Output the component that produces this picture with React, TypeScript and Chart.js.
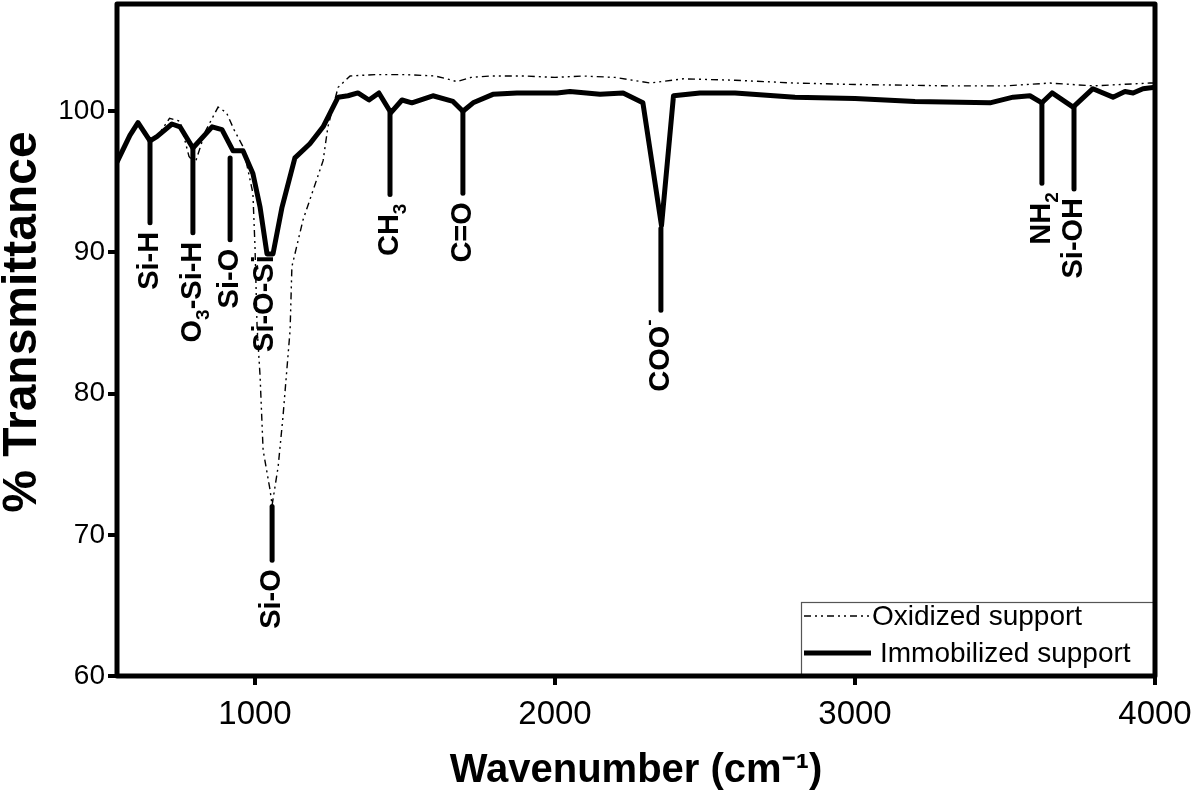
import React, { useEffect, useRef } from "react";
import { Chart, registerables } from "chart.js";

Chart.register(...registerables);

const FONT = "'Liberation Sans', Arial, sans-serif";

// Axis ranges and ticks
const X_MIN = 540;
const X_MAX = 4000;
const Y_MIN = 60;
const Y_MAX = 107.6;
const X_TICKS = [1000, 2000, 3000, 4000];
const Y_TICKS = [60, 70, 80, 90, 100];
const X_TITLE = "Wavenumber (cm\u207B\u00B9)";
const Y_TITLE = "% Transmittance";

// Series: Immobilized support (solid)
const IMM_WN = [540, 583, 610, 650, 673, 723, 750, 793, 857, 890, 927, 960, 993, 1017, 1040, 1060, 1090, 1133, 1183, 1227, 1277, 1310, 1343, 1380, 1413, 1453, 1490, 1523, 1593, 1660, 1693, 1727, 1793, 1873, 2007, 2050, 2150, 2227, 2293, 2355, 2395, 2483, 2600, 2800, 3000, 3200, 3450, 3527, 3583, 3623, 3657, 3727, 3793, 3860, 3900, 3927, 3960, 4000];
const IMM_T = [96.4, 98.3, 99.2, 97.9, 98.2, 99.1, 98.9, 97.4, 98.9, 98.7, 97.2, 97.2, 95.6, 93.2, 89.9, 89.9, 93.2, 96.7, 97.7, 98.9, 101.0, 101.1, 101.3, 100.8, 101.3, 99.9, 100.8, 100.6, 101.1, 100.7, 100.0, 100.6, 101.2, 101.3, 101.3, 101.4, 101.2, 101.3, 100.6, 91.9, 101.1, 101.3, 101.3, 101.0, 100.9, 100.7, 100.6, 101.0, 101.1, 100.6, 101.3, 100.3, 101.6, 101.0, 101.4, 101.3, 101.6, 101.7];

// Series: Oxidized support (dash-dot-dot)
const OX_WN = [540, 583, 610, 650, 680, 715, 750, 780, 800, 835, 877, 905, 930, 960, 993, 1000, 1007, 1017, 1027, 1050, 1057, 1077, 1093, 1117, 1123, 1160, 1227, 1243, 1277, 1317, 1400, 1500, 1600, 1640, 1673, 1720, 1783, 1900, 2000, 2093, 2200, 2317, 2427, 2600, 2800, 3000, 3317, 3500, 3650, 3793, 3983, 4000];
const OX_T = [96.4, 98.3, 99.2, 98.0, 98.4, 99.5, 99.3, 96.8, 96.3, 98.6, 100.3, 99.9, 98.7, 97.5, 94.2, 90.4, 84.7, 81.2, 76.0, 73.2, 72.1, 74.8, 78.3, 84.5, 89.0, 92.3, 96.5, 98.9, 101.7, 102.5, 102.6, 102.6, 102.5, 102.3, 102.1, 102.4, 102.5, 102.5, 102.4, 102.5, 102.4, 102.0, 102.3, 102.2, 102.0, 101.9, 101.8, 101.8, 102.0, 101.8, 102.0, 102.0];

// Band annotations ("_" = subscript next char, "^" = superscript next char)
const ANN_LABELS = ["Si-H", "O_3-Si-H", "Si-O", "Si-O-Si", "Si-O", "CH_3", "C=O", "COO^-", "NH_2", "Si-OH"];
const ANN_WN = [650, 793, 917, 1033, 1057, 1450, 1693, 2353, 3623, 3730];
const ANN_TOP = [97.95, 97.4, 96.7, 89.8, 72.0, 99.9, 100.0, 91.7, 100.6, 100.3];
const ANN_BOTTOM = [92.1, 91.4, 90.9, 89.8, 68.2, 94.1, 94.2, 85.9, 94.9, 94.5];

const SERIES_LABELS = ["Oxidized support", "Immobilized support"];

type Seg = { t: string; mode: "n" | "sub" | "sup" };

function parseLabel(s: string): Seg[] {
  const out: Seg[] = [];
  let i = 0;
  while (i < s.length) {
    const c = s[i];
    if ((c === "_" || c === "^") && i + 1 < s.length) {
      out.push({ t: s[i + 1], mode: c === "_" ? "sub" : "sup" });
      i += 2;
    } else {
      if (out.length && out[out.length - 1].mode === "n") out[out.length - 1].t += c;
      else out.push({ t: c, mode: "n" });
      i += 1;
    }
  }
  return out;
}

const annotationPlugin = {
  id: "bandAnnotations",
  afterDatasetsDraw(chart: any) {
    const { ctx, scales } = chart;
    const xs = scales.x;
    const ys = scales.y;
    ctx.save();
    for (let i = 0; i < ANN_LABELS.length; i++) {
      const px = xs.getPixelForValue(ANN_WN[i]);
      const top = ys.getPixelForValue(ANN_TOP[i]);
      const bot = ys.getPixelForValue(ANN_BOTTOM[i]);
      let anchorY = bot;
      if (bot - top > 1) {
        ctx.beginPath();
        ctx.strokeStyle = "#000";
        ctx.lineWidth = 5;
        ctx.lineCap = "round";
        ctx.moveTo(px, top);
        ctx.lineTo(px, bot);
        ctx.stroke();
        anchorY = bot + 9;
      }
      const segs = parseLabel(ANN_LABELS[i]);
      const bigFont = `bold 29px ${FONT}`;
      const smallFont = `bold 19px ${FONT}`;
      let total = 0;
      const widths: number[] = [];
      for (const s of segs) {
        ctx.font = s.mode === "n" ? bigFont : smallFont;
        const w = ctx.measureText(s.t).width;
        widths.push(w);
        total += w;
      }
      ctx.save();
      ctx.translate(px, anchorY);
      ctx.rotate(-Math.PI / 2);
      ctx.fillStyle = "#000";
      ctx.textBaseline = "middle";
      ctx.textAlign = "left";
      let cx = -total;
      segs.forEach((s, k) => {
        ctx.font = s.mode === "n" ? bigFont : smallFont;
        const dy = s.mode === "sub" ? 11 : s.mode === "sup" ? -11 : 0;
        ctx.fillText(s.t, cx, dy);
        cx += widths[k];
      });
      ctx.restore();
    }
    ctx.restore();
  },
};

const framePlugin = {
  id: "frameAndLegend",
  afterDraw(chart: any) {
    const { ctx, chartArea } = chart;
    const { left, right, top, bottom } = chartArea;
    ctx.save();
    // y-axis title
    ctx.save();
    ctx.translate(23, (top + bottom) / 2 - 18);
    ctx.rotate(-Math.PI / 2);
    ctx.fillStyle = "#000";
    ctx.font = `bold 48px ${FONT}`;
    ctx.textAlign = "center";
    ctx.textBaseline = "middle";
    ctx.fillText(Y_TITLE, 0, 0);
    ctx.restore();
    // legend box
    const bx = right - 354;
    const by = bottom - 74;
    ctx.fillStyle = "#fff";
    ctx.fillRect(bx, by, right - bx, bottom - by);
    ctx.strokeStyle = "#555";
    ctx.lineWidth = 1.2;
    ctx.strokeRect(bx + 0.5, by + 0.5, right - bx, bottom - by);
    // entry 1: oxidized
    const y1 = by + 14;
    ctx.beginPath();
    ctx.strokeStyle = "#000";
    ctx.lineWidth = 1.5;
    ctx.setLineDash([7, 4, 2, 4, 2, 4]);
    ctx.moveTo(bx + 3, y1);
    ctx.lineTo(bx + 68, y1);
    ctx.stroke();
    ctx.setLineDash([]);
    ctx.fillStyle = "#000";
    ctx.font = `28px ${FONT}`;
    ctx.textBaseline = "middle";
    ctx.textAlign = "left";
    ctx.fillText(SERIES_LABELS[0], bx + 71, y1 + 1);
    // entry 2: immobilized
    const y2 = by + 51;
    ctx.beginPath();
    ctx.lineWidth = 5;
    ctx.moveTo(bx + 3, y2);
    ctx.lineTo(bx + 70, y2);
    ctx.stroke();
    ctx.fillText(SERIES_LABELS[1], bx + 79, y2 + 1);
    // frame
    ctx.strokeStyle = "#000";
    ctx.lineWidth = 5;
    ctx.lineJoin = "round";
    ctx.strokeRect(left, top, right - left, bottom - top);
    ctx.restore();
  },
};

export default function App() {
  const ref = useRef<HTMLCanvasElement | null>(null);
  useEffect(() => {
    document.body.style.margin = "0";
    const canvas = ref.current;
    if (!canvas) return;
    const chart = new Chart(canvas, {
      type: "line",
      data: {
        datasets: [
          {
            label: SERIES_LABELS[0],
            data: OX_WN.map((x, i) => ({ x, y: OX_T[i] })),
            borderColor: "#000",
            borderWidth: 1.4,
            borderDash: [7, 4, 2, 4, 2, 4],
            pointRadius: 0,
            tension: 0,
            fill: false,
          },
          {
            label: SERIES_LABELS[1],
            data: IMM_WN.map((x, i) => ({ x, y: IMM_T[i] })),
            borderColor: "#000",
            borderWidth: 5,
            borderJoinStyle: "round",
            pointRadius: 0,
            tension: 0,
            fill: false,
          },
        ],
      },
      options: {
        animation: false,
        responsive: false,
        devicePixelRatio: 1,
        layout: { padding: { top: 4, right: 45, left: 0, bottom: 0 } },
        plugins: {
          legend: { display: false },
          tooltip: { enabled: false },
        },
        scales: {
          x: {
            type: "linear",
            min: X_MIN,
            max: X_MAX,
            afterBuildTicks: (s: any) => {
              s.ticks = X_TICKS.map((v) => ({ value: v }));
            },
            afterFit: (s: any) => {
              s.height = 119;
              s.paddingLeft = 0;
              s.paddingRight = 0;
            },
            ticks: {
              autoSkip: false,
              maxRotation: 0,
              padding: 10,
              color: "#000",
              font: { family: FONT, size: 33 },
              callback: (v: any) => String(v),
            },
            grid: {
              display: true,
              drawOnChartArea: false,
              drawTicks: true,
              tickLength: 9,
              lineWidth: 4,
              color: "#000",
            },
            border: { display: false },
            title: {
              display: true,
              text: X_TITLE,
              color: "#000",
              font: { family: FONT, size: 40, weight: "bold" },
              padding: { top: 0, bottom: 0 },
            },
          },
          y: {
            type: "linear",
            min: Y_MIN,
            max: Y_MAX,
            afterBuildTicks: (s: any) => {
              s.ticks = Y_TICKS.map((v) => ({ value: v }));
            },
            afterFit: (s: any) => {
              s.width = 117;
              s.paddingTop = 0;
              s.paddingBottom = 0;
            },
            ticks: {
              autoSkip: false,
              padding: 3,
              color: "#000",
              font: { family: FONT, size: 28 },
              callback: (v: any) => String(v),
            },
            grid: {
              display: true,
              drawOnChartArea: false,
              drawTicks: true,
              tickLength: 9,
              lineWidth: 4,
              color: "#000",
            },
            border: { display: false },
            title: { display: false },
          },
        },
      },
      plugins: [annotationPlugin, framePlugin],
    } as any);
    return () => chart.destroy();
  }, []);
  return (
    <div style={{ width: 1200, height: 795, background: "#fff" }}>
      <canvas ref={ref} width={1200} height={795} style={{ display: "block" }} />
    </div>
  );
}
